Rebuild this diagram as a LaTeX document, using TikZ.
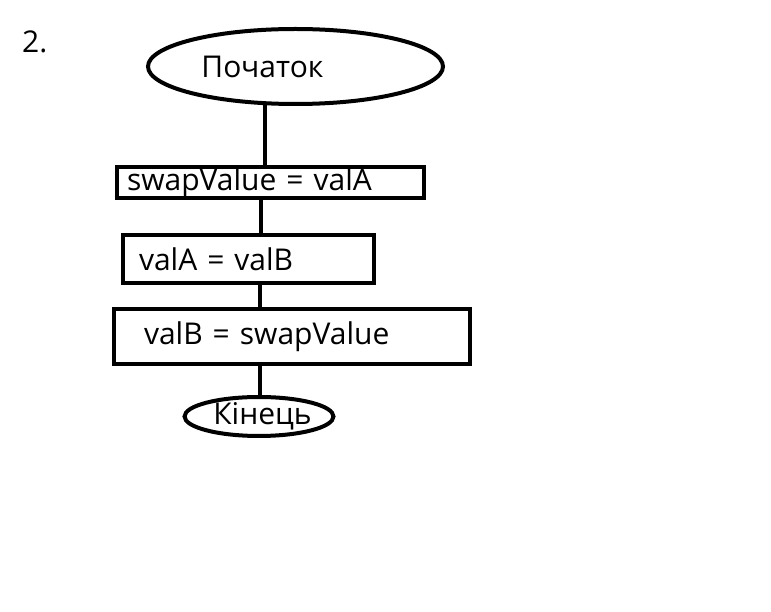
\documentclass[tikz,border=0pt]{standalone}
\usepackage{fontspec}
\setmainfont{Open Sans}
\usetikzlibrary{shapes, positioning}
\tikzset{terminal/.style = {
  % Ellipse:
  ellipse,
  draw=black, line width=4pt,
  inner sep=0pt, outer sep=0pt,
  % Text:
  font=\fontsize{30}{34}\selectfont
  }}
\tikzset{process/.style = {
  % Rectangle:
  rectangle,
  draw=black, line width=3.5pt,
  inner ysep=0pt, outer sep=0pt,
  align=left,
  % Text:
  font=\fontsize{30}{34}\selectfont
  }}
\tikzset{link/.style = {
  line width=4pt,
  draw=black
  }}

\begin{document}
\begin{tikzpicture}[x=1pt, y=1pt]
  \useasboundingbox (0,0) rectangle (771,-612);
  %
  % Specification of nodes
  %
  \node (num) [anchor=base west, font=\fontsize{30}{34}\selectfont, inner sep=0pt] at (22,-53) {2.};
  \node (start) [terminal, minimum width=295pt, minimum height=75pt] at (295.5,-66.5) {Початок\kern66pt};
  \node (swap) [process, below = 63pt of start, xshift=-25pt,
    minimum height=31pt, inner xsep=10pt, text width=287pt] {swapValue = valA};
  \node (assignA) [process, below = 37pt of swap, xshift=-22pt,
    minimum height=48pt, inner xsep=16pt, text width=219pt] {valA = valB};
  \node (assignB) [process, below = 26pt of assignA, xshift=43.5pt,
    minimum height=55pt, inner xsep=30pt, text width=296pt] {valB = swapValue};
  \node (finish) [terminal, below = 33pt of assignB, xshift=-33pt,
    minimum width=144pt, minimum height=38pt] {\kern7pt Кінець};
  %
  % Specification of lines
  %
  \coordinate (axis1) at (265,0);
  \coordinate (axis2) at (261,0);
  \coordinate (axis3) at (260,0);
  \draw [link] (start.south -| axis1) -- (swap.north -| axis1);
  \draw [link] (swap.south -| axis2) -- (assignA.north -| axis2);
  \draw [link] (assignA.south -| axis3) -- (assignB.north -| axis3);
  \draw [link] (assignB.south -| axis3) -- (finish.north -| axis3);
\end{tikzpicture}
\end{document}
